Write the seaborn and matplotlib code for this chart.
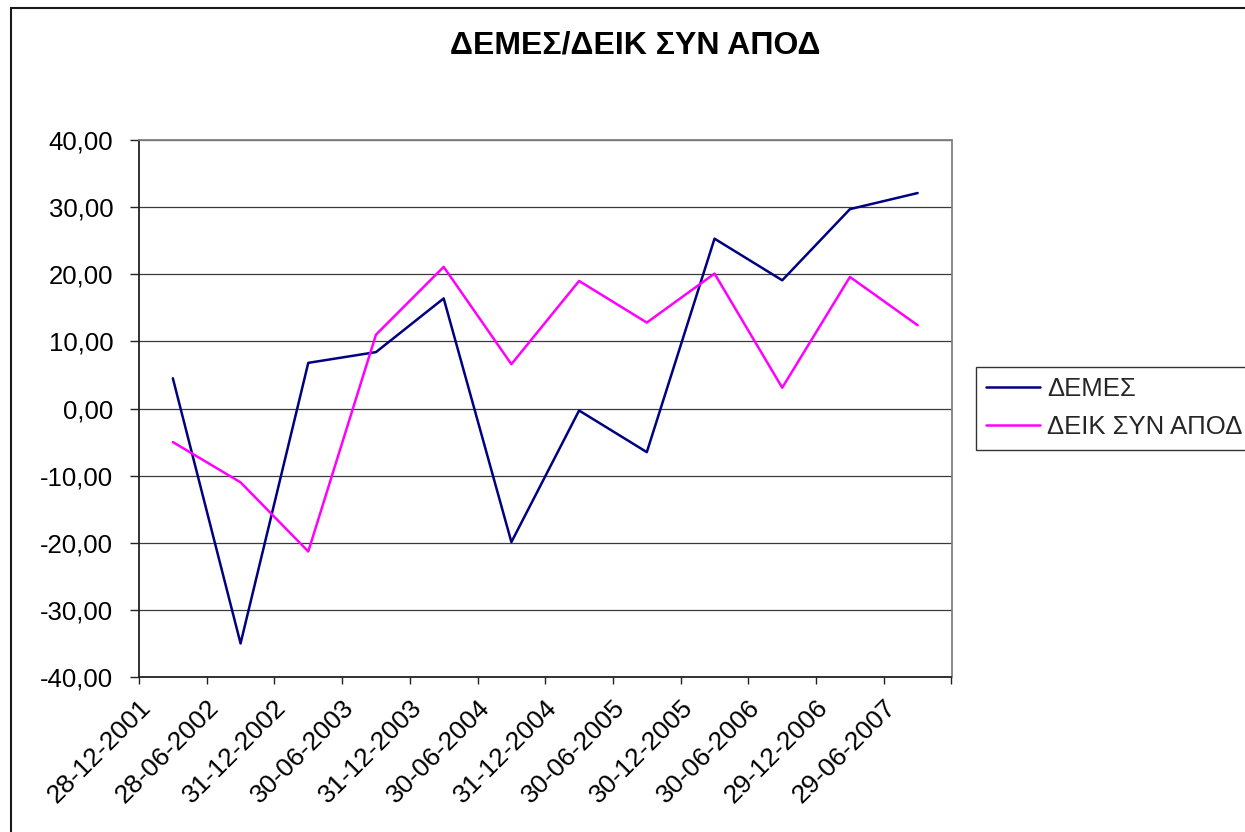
import numpy as np
import pandas as pd
import matplotlib
matplotlib.use("Agg")
import matplotlib.pyplot as plt
import matplotlib.patches as mpatches
from matplotlib.transforms import ScaledTranslation
import seaborn as sns

# Period-end dates (category axis)
dates = ["28-12-2001", "28-06-2002", "31-12-2002", "30-06-2003", "31-12-2003",
         "30-06-2004", "31-12-2004", "30-06-2005", "30-12-2005", "30-06-2006",
         "29-12-2006", "29-06-2007"]

# Series values (%)
demes = [4.5, -35.0, 6.8, 8.4, 16.4, -19.9, -0.3, -6.5, 25.3, 19.1, 29.7, 32.1]
deik_syn_apod = [-5.0, -11.0, -21.3, 11.0, 21.1, 6.6, 19.0, 12.8, 20.1, 3.1, 19.6, 12.4]

series_names = ["ΔΕΜΕΣ", "ΔΕΙΚ ΣΥΝ ΑΠΟΔ"]
series_colors = ["#000080", "#FF00FF"]
title = "ΔΕΜΕΣ/ΔΕΙΚ ΣΥΝ ΑΠΟΔ"
y_ticks = [-40, -30, -20, -10, 0, 10, 20, 30, 40]

df = pd.DataFrame({
    "pos": list(range(len(dates))) * 2,
    "value": demes + deik_syn_apod,
    "series": [series_names[0]] * len(dates) + [series_names[1]] * len(dates),
})

sns.set_style("white")
plt.rcParams["font.family"] = ["Liberation Sans", "DejaVu Sans"]

W, H = 1245, 832
fig = plt.figure(figsize=(W / 100, H / 100), dpi=100)
ax = fig.add_axes([139 / W, 1 - 677 / H, (951.5 - 139) / W, (677 - 140) / H])

sns.lineplot(data=df, x="pos", y="value", hue="series", hue_order=series_names,
             palette=series_colors, linewidth=1.8, ax=ax, legend=True,
             estimator=None, sort=False)

ax.set_xlim(-0.5, len(dates) - 0.5)
ax.set_ylim(-40, 40)
ax.set_xlabel("")
ax.set_ylabel("")

# horizontal gridlines
ax.set_yticks(y_ticks)
ax.set_yticklabels([f"{v:.2f}".replace(".", ",") for v in y_ticks], fontsize=18.5)
ax.yaxis.grid(True, color="#3a3a3a", linewidth=0.9)
ax.xaxis.grid(False)
ax.set_axisbelow(True)
ax.tick_params(axis="y", length=6.5, width=1.0, color="#222222", pad=12,
               left=True, direction="out", labelcolor="black")

# category labels with tick marks between categories
ax.set_xticks(range(len(dates)))
ax.set_xticklabels(dates, fontsize=19, rotation=45, ha="right", va="top",
                   rotation_mode="anchor", color="black")
ax.tick_params(axis="x", which="major", length=0, pad=13)
ax.set_xticks(np.arange(-0.5, len(dates), 1), minor=True)
ax.tick_params(axis="x", which="minor", length=5, width=1.0, color="#222222",
               bottom=True, direction="out")
shift = ScaledTranslation(-34 / 100, 0, fig.dpi_scale_trans)
for lab in ax.get_xticklabels():
    lab.set_transform(lab.get_transform() + shift)

for side in ["left", "bottom"]:
    ax.spines[side].set_color("#222222")
    ax.spines[side].set_linewidth(1.3)
for side in ["top", "right"]:
    ax.spines[side].set_color("#808080")
    ax.spines[side].set_linewidth(1.3)

# legend to the right of the plot area
handles, labels = ax.get_legend_handles_labels()
ax.legend(handles, labels, loc="upper left",
          bbox_to_anchor=(975.7 / W, 1 - 367 / H), bbox_transform=fig.transFigure,
          borderaxespad=0, frameon=True, fancybox=False, framealpha=1,
          edgecolor="#333333", fontsize=18.5, handlelength=2.1,
          handletextpad=0.28, borderpad=0.4, labelspacing=0.55)
ax.get_legend().get_frame().set_linewidth(1.0)

fig.text(635 / W, 1 - 46 / H, title, ha="center", va="center",
         fontsize=23, fontweight="bold", color="black")

# chart-area frame
fig.patches.append(mpatches.Rectangle((11 / W, -0.05), 1.2, 1 - 8 / H + 0.05,
                                      transform=fig.transFigure, fill=False,
                                      edgecolor="#1a1a1a", linewidth=1.5))

fig.savefig("out.png", dpi=100)
